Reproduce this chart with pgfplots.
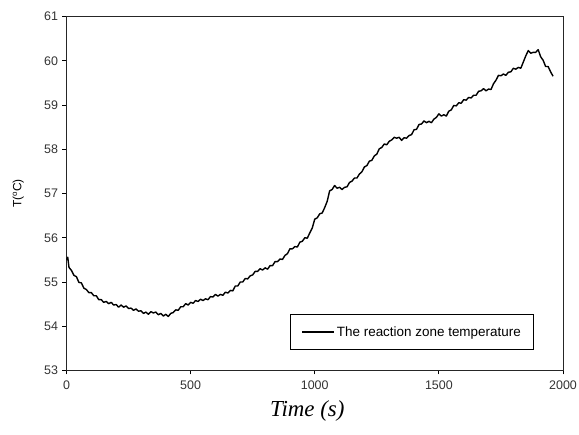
\documentclass[border=0pt]{standalone}
\usepackage{fontspec}
\setmainfont{Liberation Sans}
\newfontfamily\serifit{Liberation Serif}
\usepackage{pgfplots}
\pgfplotsset{compat=1.18}
\begin{document}
\begin{tikzpicture}
\begin{axis}[
  name=ax,
  scale only axis,
  width=496.5bp, height=354bp,
  xmin=0, xmax=2000, ymin=53, ymax=61,
  xtick={0,500,1000,1500,2000},
  ytick={53,54,55,56,57,58,59,60,61},
  xtick pos=bottom, ytick pos=left,
  tick align=outside,
  major tick length=4bp,
  tick style={black, line width=0.8bp},
  axis line style={black!85, line width=1bp},
  /pgf/number format/assume math mode=true,
  /pgf/number format/set thousands separator={},
  ticklabel style={font=\fontsize{12.5}{14}\selectfont, text=black!80},
  xticklabel style={yshift=-3bp},
  yticklabel style={xshift=-1bp},
  xlabel={\serifit\itshape Time (s)},
  xlabel style={font=\fontsize{23}{26}\selectfont, at={(axis description cs:0.485,0)}, anchor=north, yshift=-27bp},
  ylabel={T(\textsuperscript{o}C)},
  ylabel style={font=\fontsize{12}{14}\selectfont, at={(axis description cs:-0.097,0.5)}, anchor=center},
  legend style={at={(axis description cs:0.942,0.058)}, anchor=south east, draw=black, line width=0.8bp,
    font=\fontsize{13.5}{15}\selectfont, inner xsep=11bp, inner ysep=10bp, cells={anchor=west}},
  legend image code/.code={\draw[#1] (0bp,0bp) -- (32bp,0bp);},
]
\addplot[black, line width=1.4bp, line join=round] coordinates {
(0,55.50)(5,55.56)(10,55.33)(20,55.26)(30,55.15)(40,55.12)(50,54.99)(60,54.98)(70,54.86)(80,54.83)(90,54.76)
(100,54.76)(110,54.69)(120,54.69)(130,54.60)(140,54.60)(150,54.54)(160,54.56)(170,54.51)(180,54.54)(190,54.48)
(200,54.49)(210,54.43)(220,54.48)(230,54.43)(240,54.46)(250,54.40)(260,54.41)(270,54.36)(280,54.39)(290,54.34)
(300,54.35)(310,54.29)(320,54.32)(330,54.27)(340,54.33)(350,54.30)(360,54.32)(370,54.26)(380,54.29)(390,54.23)
(400,54.27)(410,54.22)(420,54.29)(430,54.31)(440,54.37)(450,54.36)(460,54.44)(470,54.44)(480,54.51)(490,54.48)
(500,54.54)(510,54.52)(520,54.58)(530,54.56)(540,54.61)(550,54.58)(560,54.62)(570,54.60)(580,54.67)(590,54.66)
(600,54.72)(610,54.68)(620,54.72)(630,54.70)(640,54.77)(650,54.75)(660,54.81)(670,54.80)(680,54.91)(690,54.91)
(700,55.00)(710,55.00)(720,55.08)(730,55.07)(740,55.14)(750,55.16)(760,55.24)(770,55.24)(780,55.30)(790,55.27)
(800,55.32)(810,55.29)(820,55.37)(830,55.37)(840,55.46)(850,55.46)(860,55.52)(870,55.51)(880,55.60)(890,55.64)
(900,55.75)(910,55.75)(920,55.80)(930,55.79)(940,55.90)(950,55.92)(960,56.00)(970,55.99)(980,56.11)(990,56.22)
(1000,56.42)(1010,56.45)(1020,56.54)(1030,56.56)(1040,56.68)(1050,56.82)(1060,57.06)(1070,57.09)(1080,57.18)(1090,57.12)
(1100,57.14)(1110,57.09)(1120,57.14)(1130,57.15)(1140,57.25)(1150,57.28)(1160,57.35)(1170,57.35)(1180,57.44)(1190,57.49)
(1200,57.60)(1210,57.63)(1220,57.73)(1230,57.75)(1240,57.85)(1250,57.89)(1260,58.01)(1270,58.04)(1280,58.12)(1290,58.10)
(1300,58.18)(1310,58.21)(1320,58.27)(1330,58.25)(1340,58.27)(1350,58.20)(1360,58.26)(1370,58.25)(1380,58.31)(1390,58.33)
(1400,58.44)(1410,58.45)(1420,58.56)(1430,58.57)(1440,58.64)(1450,58.60)(1460,58.63)(1470,58.60)(1480,58.68)(1490,58.72)
(1500,58.80)(1510,58.75)(1520,58.78)(1530,58.75)(1540,58.86)(1550,58.89)(1560,58.99)(1570,58.98)(1580,59.05)(1590,59.04)
(1600,59.12)(1610,59.11)(1620,59.17)(1630,59.16)(1640,59.22)(1650,59.22)(1660,59.31)(1670,59.32)(1680,59.37)(1690,59.32)
(1700,59.36)(1710,59.35)(1720,59.48)(1730,59.56)(1740,59.67)(1750,59.66)(1760,59.70)(1770,59.67)(1780,59.74)(1790,59.75)
(1800,59.83)(1810,59.81)(1820,59.85)(1830,59.83)(1840,59.97)(1850,60.11)(1860,60.23)(1870,60.17)(1880,60.19)(1890,60.19)
(1900,60.25)(1910,60.09)(1920,60.01)(1930,59.87)(1940,59.87)(1950,59.75)(1960,59.65)
};
\addlegendentry{The reaction zone temperature}
\end{axis}
\pgfresetboundingbox
\path[use as bounding box] ([shift={(-66.5bp,-64.5bp)}]ax.south west) rectangle ([shift={(16bp,16.5bp)}]ax.north east);
\end{tikzpicture}
\end{document}
